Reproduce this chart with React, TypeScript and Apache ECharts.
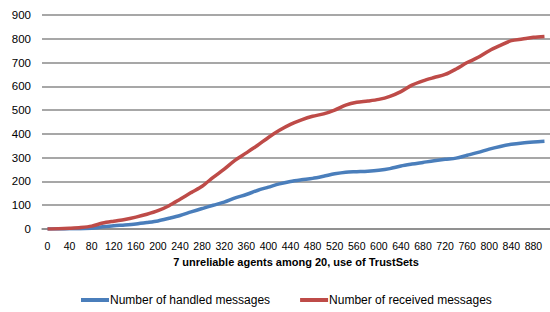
import React, { useEffect, useRef } from "react";
import * as echarts from "echarts";

const categories: string[] = Array.from({ length: 46 }, (_, i) => String(i * 20));

const handled: number[] = [
  0, 0, 1, 1, 3, 9, 14, 17, 21, 27, 34, 45, 57, 72, 86, 100, 113, 131, 145, 162,
  176, 190, 200, 207, 213, 222, 232, 239, 241, 243, 247, 254, 265, 273, 280, 287,
  293, 298, 310, 322, 336, 347, 356, 362, 366, 369,
];

const received: number[] = [
  0, 1, 3, 6, 12, 25, 33, 40, 50, 62, 77, 98, 125, 153, 180, 217, 252, 290, 320, 351,
  385, 415, 440, 459, 474, 484, 500, 521, 533, 538, 545, 558, 578, 605, 623, 637,
  650, 673, 700, 722, 750, 772, 792, 799, 806, 810,
];

const seriesNames = ["Number of handled messages", "Number of received messages"];
const xAxisTitle = "7 unreliable agents among 20, use of TrustSets";

export default function App() {
  const ref = useRef<HTMLDivElement>(null);
  useEffect(() => {
    if (!ref.current) return;
    const chart = echarts.init(ref.current, undefined, { renderer: "svg" });
    const font = "'Liberation Sans', Arial, sans-serif";
    chart.setOption({
      animation: false,
      backgroundColor: "#ffffff",
      grid: { left: 42, right: 0, top: 15, bottom: 83, containLabel: false },
      legend: {
        top: 294,
        left: 81,
        padding: 0,
        itemWidth: 28,
        itemHeight: 4,
        itemGap: 30,
        icon: "rect",
        textStyle: { fontFamily: font, fontSize: 12, color: "#000", padding: [0, 0, 0, -4] },
        data: seriesNames,
      },
      xAxis: {
        type: "category",
        data: categories,
        boundaryGap: true,
        name: xAxisTitle,
        nameLocation: "middle",
        nameGap: 27,
        nameTextStyle: { fontFamily: font, fontSize: 11, fontWeight: "bold", color: "#000" },
        axisLine: { show: true, lineStyle: { color: "#8a8a8a", width: 1.5 } },
        axisTick: { show: false },
        axisLabel: { interval: 1, fontFamily: font, fontSize: 10.5, color: "#000", margin: 11 },
        splitLine: { show: false },
      },
      yAxis: {
        type: "value",
        min: 0,
        max: 900,
        interval: 100,
        axisLine: { show: false },
        axisTick: { show: false },
        axisLabel: { fontFamily: font, fontSize: 11.5, color: "#000", margin: 11 },
        splitLine: { show: true, lineStyle: { color: "#8a8a8a", width: 1.5 } },
      },
      series: [
        {
          name: seriesNames[0],
          type: "line",
          data: handled,
          smooth: 0.3,
          symbol: "none",
          lineStyle: { color: "#4A7EBB", width: 3.5 },
          itemStyle: { color: "#4A7EBB" },
        },
        {
          name: seriesNames[1],
          type: "line",
          data: received,
          smooth: 0.3,
          symbol: "none",
          lineStyle: { color: "#BE4B48", width: 3.5 },
          itemStyle: { color: "#BE4B48" },
        },
      ],
    });
    return () => chart.dispose();
  }, []);
  return <div ref={ref} style={{ width: 550, height: 312, position: "absolute", left: 0, top: 0 }} />;
}
